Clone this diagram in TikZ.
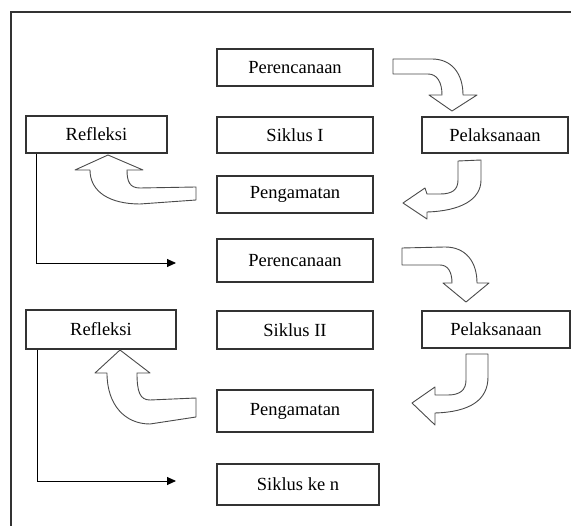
\documentclass[tikz,border=0pt]{standalone}
\usepackage{fontspec}
\setmainfont{Liberation Serif}
\usetikzlibrary{arrows.meta}
\definecolor{edge}{HTML}{333333}
\definecolor{aedge}{HTML}{4A4A4A}
\tikzset{
  stepbox/.style={draw=edge, line width=1.2pt, fill=white, inner sep=0pt,
    font=\fontsize{18.5}{21}\selectfont, text=black},
  barrow/.style={draw=aedge, line width=0.9pt, fill=white, line join=round},
  link/.style={draw=black, line width=0.9pt, -{Triangle[length=9pt,width=8pt]}},
  frame/.style={draw=edge, line width=1.5pt}
}
\begin{document}
\begin{tikzpicture}[x=1pt,y=-1pt]
\useasboundingbox (0,0) rectangle (571,526);
\clip (0,0) rectangle (571,526);
\draw[frame] (11,540) -- (11,12) -- (590,12);

% column 2
\node[stepbox, minimum width=156pt, minimum height=37pt] (P1) at (295,67.5) {Perencanaan};
\node[stepbox, minimum width=156pt, minimum height=36pt] (S1) at (295,135) {Siklus I};
\node[stepbox, minimum width=156pt, minimum height=37pt] (G1) at (295,194.5) {Pengamatan};
\node[stepbox, minimum width=156pt, minimum height=43pt] (P2) at (295,260.5) {Perencanaan};
\node[stepbox, minimum width=156pt, minimum height=38pt] (S2) at (295,330) {Siklus II};
\node[stepbox, minimum width=156pt, minimum height=42pt] (G2) at (295,411) {Pengamatan};
\node[stepbox, minimum width=162pt, minimum height=41pt] (N) at (298,484.5) {Siklus ke n};

% left
\node[stepbox, minimum width=141pt, minimum height=37pt] (R1) at (96.5,134.5) {Refleksi};
\node[stepbox, minimum width=150pt, minimum height=39pt] (R2) at (101,329.5) {Refleksi};

% right
\node[stepbox, minimum width=146pt, minimum height=36pt] (E1) at (495,135) {Pelaksanaan};
\node[stepbox, minimum width=148pt, minimum height=37pt] (E2) at (496,329.5) {Pelaksanaan};

% connectors
\coordinate (T1) at (176,263);
\coordinate (T2) at (176,481);
\draw[link] ([xshift=11pt]R1.south west) |- (T1);
\draw[link] ([xshift=12pt]R2.south west) |- (T2);

% block arrows
\draw[barrow] (393,59) -- (432,59) .. controls (452,59) and (463,74) .. (463,95)
  -- (477,95) -- (452,111) -- (429,95) -- (442,95)
  .. controls (442,82) and (437,74) .. (428,74) -- (393,74) -- cycle;
\draw[barrow] (458,161) -- (458,180) .. controls (458,190) and (452,194) .. (440,194)
  -- (427,194) -- (425,188) -- (403,203) -- (427,219) -- (427,212)
  .. controls (460,211) and (481,200) .. (481,180) -- (481,160) -- cycle;
\draw[barrow] (402,248) -- (445,247) .. controls (466,247) and (477,262) .. (477,283)
  -- (489,283) -- (466,302) -- (443,283) -- (452,283)
  .. controls (452,272) and (448,265) .. (440,265) -- (402,265) -- cycle;
\draw[barrow] (466,354) -- (466,380) .. controls (466,390) and (460,395) .. (448,395)
  -- (435,395) -- (435,387) -- (412,403) -- (435,425) -- (435,413)
  .. controls (470,412) and (488,400) .. (488,377) -- (488,354) -- cycle;
\draw[barrow] (196,187) -- (140,188) .. controls (130,188) and (127,182) .. (127,170)
  -- (143,170) -- (108,155) -- (75,170) -- (90,170)
  .. controls (90,192) and (110,204) .. (140,204) -- (196,200) -- cycle;
\draw[barrow] (196,398) -- (150,400) .. controls (140,400) and (137,392) .. (137,373)
  -- (150,373) -- (120,350) -- (95,373) -- (107,373)
  .. controls (107,405) and (125,424) .. (150,424) -- (196,417) -- cycle;
\end{tikzpicture}
\end{document}
